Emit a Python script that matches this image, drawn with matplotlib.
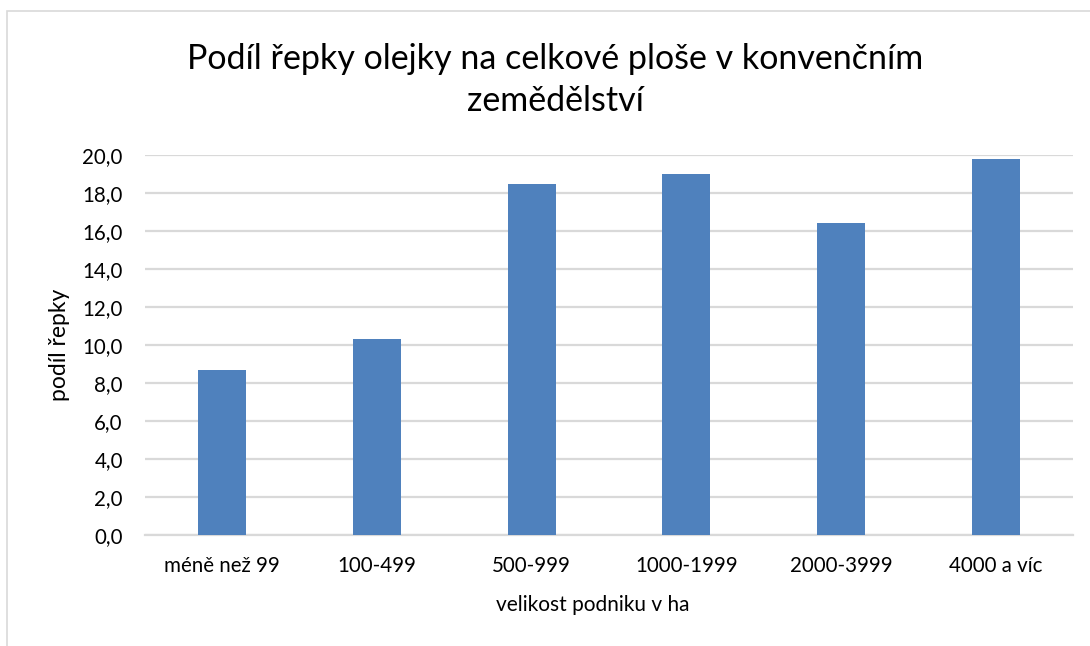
"""
Podil repky olejky - sloupcovy graf
"""

import matplotlib
matplotlib.use('Agg')
import matplotlib.pyplot as plt
from matplotlib.patches import Rectangle
from matplotlib.ticker import FuncFormatter

categories = ['méně než 99', '100-499', '500-999', '1000-1999', '2000-3999', '4000 a víc']
shares = [8.7, 10.3, 18.5, 19.0, 16.4, 19.8]
y_ticks = [0, 2, 4, 6, 8, 10, 12, 14, 16, 18, 20]

title = 'Podíl řepky olejky na celkové ploše v konvenčním\nzemědělství'
x_label = 'velikost podniku v ha'
y_label = 'podíl řepky'

BAR_COLOR = '#4F81BD'
GRID_COLOR = '#D9D9D9'

plt.rcParams['font.family'] = ['Lato', 'DejaVu Sans']

fig = plt.figure(figsize=(10.9, 6.46), dpi=100, facecolor='white')

# chart border (only top and left edges visible in the original crop)
fig.patches.append(Rectangle((7 / 1090, -0.1), 1.2, (646 - 11) / 646 + 0.1,
                             transform=fig.transFigure, fill=False,
                             edgecolor='#D9D9D9', linewidth=1.2))

ax = fig.add_axes([145 / 1090, 111 / 646, 928 / 1090, 380 / 646])

positions = range(len(categories))
ax.bar(positions, shares, width=0.31, color=BAR_COLOR, zorder=3)

ax.set_xlim(-0.5, len(categories) - 0.5)
ax.set_ylim(0, 20)
ax.set_yticks(y_ticks)
ax.yaxis.set_major_formatter(FuncFormatter(lambda v, _: f'{v:.1f}'.replace('.', ',')))
ax.set_xticks(list(positions))
ax.set_xticklabels(categories)

ax.grid(axis='y', color=GRID_COLOR, linewidth=1.6, zorder=0)
for side in ('top', 'right', 'left'):
    ax.spines[side].set_visible(False)
ax.spines['bottom'].set_color(GRID_COLOR)
ax.spines['bottom'].set_linewidth(1.6)

ax.tick_params(axis='both', length=0, labelsize=14.8, colors='#000000')
ax.tick_params(axis='y', pad=16)
ax.tick_params(axis='x', pad=15)

ax.set_xlabel(x_label, fontsize=15)
ax.set_ylabel(y_label, fontsize=16.5)
ax.xaxis.set_label_coords((593 - 145) / 928, -(605 - 535) / 380)
ax.yaxis.set_label_coords(-(145 - 60) / 928, 0.5)
ax.xaxis.label.set_va('center')
ax.yaxis.label.set_va('center')

fig.text(555 / 1090, 1 - 80 / 646, title, ha='center', va='center',
         fontsize=24.5, linespacing=1.4)

fig.savefig('out.png', dpi=100, facecolor='white')
